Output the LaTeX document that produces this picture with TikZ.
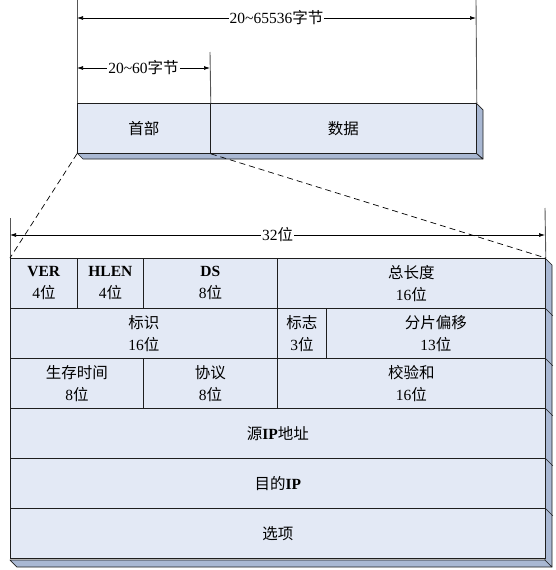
\documentclass[tikz,border=0pt]{standalone}
\usepackage{fontspec}
\setmainfont{Liberation Serif}
\newfontfamily\cjk{Noto Sans CJK SC}
\usetikzlibrary{arrows.meta,positioning,calc}
\definecolor{Cell}{HTML}{E3E9F5}
\definecolor{Side}{HTML}{A9B8D3}
\definecolor{Edge}{HTML}{1E1E1E}
\definecolor{Guide}{HTML}{555555}
\newcommand\wei{{\cjk 位}}

\begin{document}
\begin{tikzpicture}[x=1pt,y=-1pt,
  field/.style={draw=Edge,fill=Cell,line width=0.8pt,inner sep=0pt,anchor=north west,
                align=center,minimum height=50pt,font=\fontsize{15.5}{22}\selectfont},
  side/.style={draw=Edge,fill=Side,line width=0.7pt,line join=round},
  guide/.style={draw=Guide,line width=0.9pt},
  dim/.style={{Latex[length=6pt,width=4pt]}-{Latex[length=6pt,width=4pt]},line width=0.7pt,draw=black},
  dimtext/.style={fill=white,inner sep=1pt,font=\fontsize{15.5}{18}\selectfont},
  zoomline/.style={line width=0.7pt,dash pattern=on 6pt off 4pt}
]
  \useasboundingbox (0,0) rectangle (555,570);
  % packet: header + data
  \draw[side] (77,153) -- (83,159) -- (483,159) -- (476,153) -- cycle;
  \draw[side] (476,103) -- (483,110) -- (483,159) -- (476,153) -- cycle;
  \node[field,minimum width=133pt] (hdr) at (77,103) {\cjk 首部};
  \node[field,minimum width=266pt] (data) at (210,103) {\cjk 数据};
  \coordinate (totL) at (77,0);
  \coordinate (totR) at (476,0);
  \coordinate (hdrR) at (210,52);
  \draw[guide] (totL) -- (hdr.north west);
  \draw[guide] (totR) -- (data.north east);
  \draw[guide] (hdrR) -- (hdr.north east);
  \coordinate (lenA) at (77,18);
  \coordinate (lenB) at (476,18);
  \draw[dim] (lenA) -- node[dimtext] {20\textasciitilde65536{\cjk 字节}} (lenB);
  \coordinate (hlA) at (77,68);
  \coordinate (hlB) at (210,68);
  \draw[dim] (hlA) -- node[dimtext] {20\textasciitilde60{\cjk 字节}} (hlB);

  % header fields
  \draw[side] (10,560) -- (17,567) -- (552,567) -- (545,560) -- cycle;
  \draw[side] (545,258) -- (552,265) -- (552,567) -- (545,560) -- cycle;
  \node[field,minimum width=67pt]  (ver)     at (10,258)  {\textbf{VER}\\4\wei};
  \node[field,minimum width=66pt]  (hlen)    at (77,258)  {\textbf{HLEN}\\4\wei};
  \node[field,minimum width=134pt] (ds)      at (143,258) {\textbf{DS}\\8\wei};
  \node[field,minimum width=268pt] (totlen)  at (277,258) {{\cjk 总长度}\\16\wei};
  \node[field,minimum width=267pt] (ident)   at (10,308)  {{\cjk 标识}\\16\wei};
  \node[field,minimum width=49pt]  (flags)   at (277,308) {{\cjk 标志}\\3\wei};
  \node[field,minimum width=219pt] (fragoff) at (326,308) {{\cjk 分片偏移}\\13\wei};
  \node[field,minimum width=133pt] (ttl)     at (10,358)  {{\cjk 生存时间}\\8\wei};
  \node[field,minimum width=134pt] (proto)   at (143,358) {{\cjk 协议}\\8\wei};
  \node[field,minimum width=268pt] (cksum)   at (277,358) {{\cjk 校验和}\\16\wei};
  \node[field,minimum width=535pt] (srcip)   at (10,408)  {{\cjk 源}\textbf{IP}{\cjk 地址}};
  \node[field,minimum width=535pt] (dstip)   at (10,458)  {{\cjk 目的}\textbf{IP}};
  \node[field,minimum width=535pt] (opts)    at (10,508)  {\cjk 选项};
  \foreach \r in {totlen,fragoff,cksum,srcip,dstip}
    \draw[side] (\r.south east) -- ++(7,7);

  \coordinate (bitL) at (10,218);
  \coordinate (bitR) at (545,208);
  \draw[guide] (bitL) -- (ver.north west);
  \draw[guide] (bitR) -- (totlen.north east);
  \coordinate (bitA) at (10,235);
  \coordinate (bitB) at (545,235);
  \draw[dim] (bitA) -- node[dimtext] {32\wei} (bitB);

  % zoom from header to its fields
  \draw[zoomline] (hdr.south west) -- (ver.north west);
  \draw[zoomline] (hdr.south east) -- (totlen.north east);
\end{tikzpicture}
\end{document}
